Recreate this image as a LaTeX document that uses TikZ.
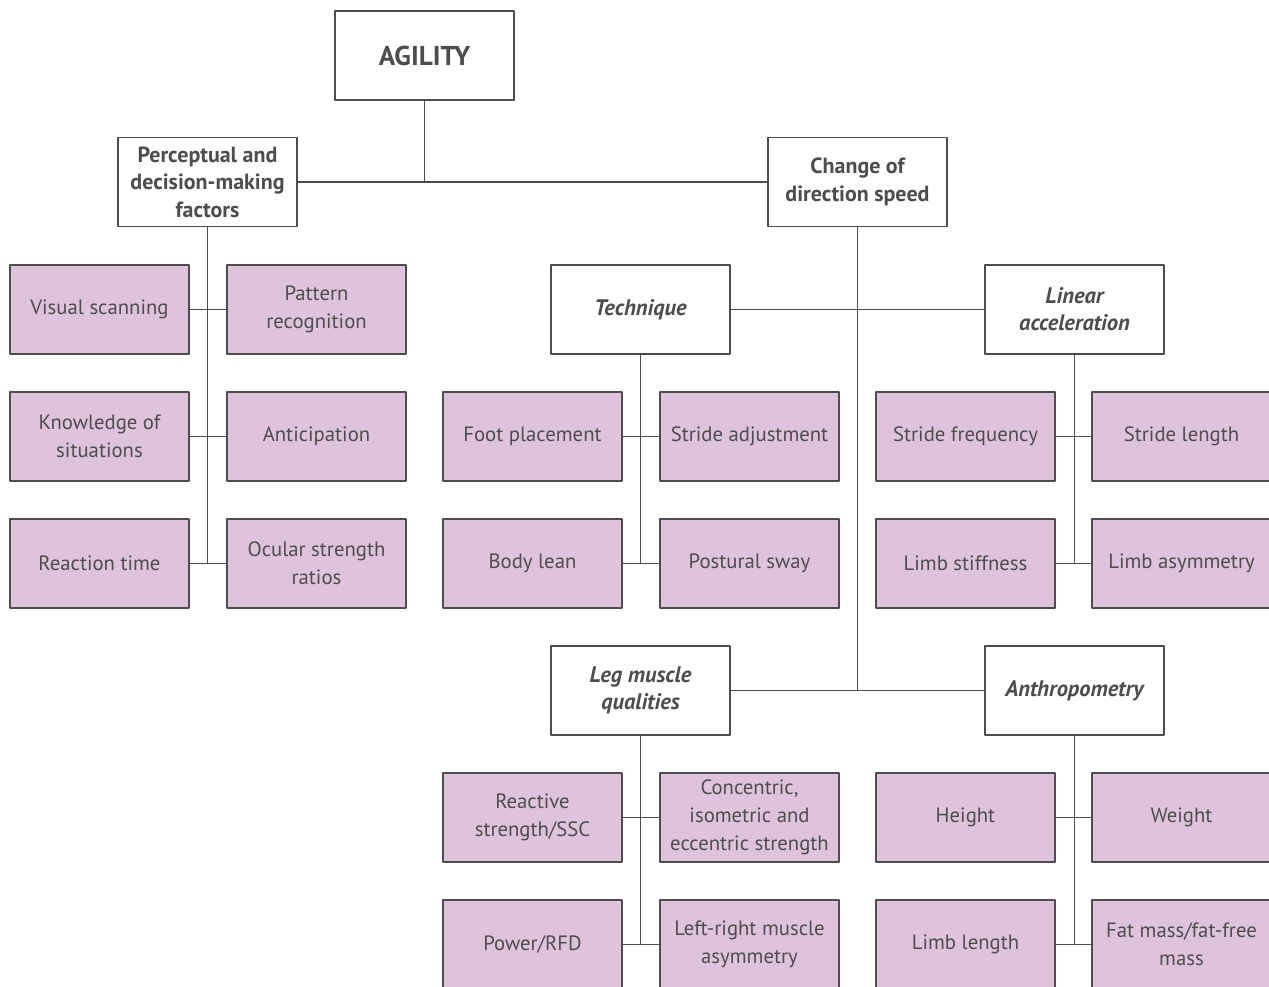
\documentclass[tikz,border=0pt]{standalone}
\usepackage{fontspec}
\setmainfont{PT Sans}
\definecolor{leafpink}{HTML}{DFC3DD}
\definecolor{inkgray}{HTML}{4D4D4D}
\begin{document}
\begin{tikzpicture}[x=0.02cm,y=-0.02cm, line join=round,
    box/.style={draw=inkgray, line width=0.6pt, minimum width=3.58cm, minimum height=1.78cm,
      align=center, text=inkgray, inner sep=2pt, font=\fontsize{11.8}{15.8}\selectfont},
    headbox/.style={box, fill=white, font=\fontsize{12.5}{15.6}\selectfont\bfseries},
    subbox/.style={box, fill=white, font=\fontsize{12.8}{15.4}\selectfont\bfseries\itshape},
    leaf/.style={box, fill=leafpink},
    link/.style={draw=inkgray, line width=0.6pt},
    trunk/.style={draw=inkgray, line width=0.9pt}]
  \useasboundingbox (0,0) rectangle (1269,987);
  \clip (0,0) rectangle (1269,987);
  % top levels
  \node[headbox, font=\fontsize{15.5}{18}\selectfont\bfseries] (agility) at (424.5,55.5) {AGILITY};
  \node[headbox] (percep) at (207.5,182) {Perceptual and\\decision-making\\factors};
  \node[headbox] (cod) at (857.5,182) {Change of\\direction speed};
  \node[subbox] (tech) at (640.5,309.5) {Technique};
  \node[subbox] (linacc) at (1074.5,309.5) {Linear\\acceleration};
  \node[subbox] (legmus) at (640.5,690.5) {Leg muscle\\qualities};
  \node[subbox] (anthro) at (1074.5,690.5) {Anthropometry};
  % leaves
  \foreach \n/\x/\y/\t in {
      vis/99.5/309.5/{Visual scanning}, pat/316.5/309.5/{Pattern\\recognition},
      know/99.5/436.5/{Knowledge of\\situations}, anti/316.5/436.5/{Anticipation},
      react/99.5/563.5/{Reaction time}, ocul/316.5/563.5/{Ocular strength\\ratios},
      foot/532.5/436.5/{Foot placement}, stradj/749.5/436.5/{Stride adjustment},
      lean/532.5/563.5/{Body lean}, sway/749.5/563.5/{Postural sway},
      strfreq/965.5/436.5/{Stride frequency}, strlen/1181.5/436.5/{Stride length},
      stiff/965.5/563.5/{Limb stiffness}, asym/1181.5/563.5/{Limb asymmetry},
      reactstr/532.5/817.5/{Reactive\\strength/SSC}, conc/749.5/817.5/{Concentric,\\isometric and\\eccentric strength},
      power/532.5/944.5/{Power/RFD}, lrasym/749.5/944.5/{Left-right muscle\\asymmetry},
      height/965.5/817.5/{Height}, weight/1181.5/817.5/{Weight},
      limblen/965.5/944.5/{Limb length}, fat/1181.5/944.5/{Fat mass/fat-free\\mass}}
    \node[leaf] (\n) at (\x,\y) {\t};
  % connectors
  \draw[link] (agility.south) -- (agility.south |- percep.east);
  \draw[link] (percep.east) -- (cod.west);
  \draw[link] (tech.east) -- (linacc.west);
  \draw[link] (legmus.east) -- (anthro.west);
  \draw[trunk] (cod.south) -- (cod.south |- legmus.east);
  \draw[trunk] (percep.south) -- (percep.south |- react.east);
  \draw[trunk] (tech.south) -- (tech.south |- lean.east);
  \draw[trunk] (linacc.south) -- (linacc.south |- stiff.east);
  \draw[trunk] (legmus.south) -- (legmus.south |- power.east);
  \draw[trunk] (anthro.south) -- (anthro.south |- limblen.east);
  \foreach \a/\b in {vis/pat, know/anti, react/ocul, foot/stradj, lean/sway,
      strfreq/strlen, stiff/asym, reactstr/conc, power/lrasym, height/weight,
      limblen/fat}
    \draw[link] (\a.east) -- (\b.west);
\end{tikzpicture}
\end{document}
